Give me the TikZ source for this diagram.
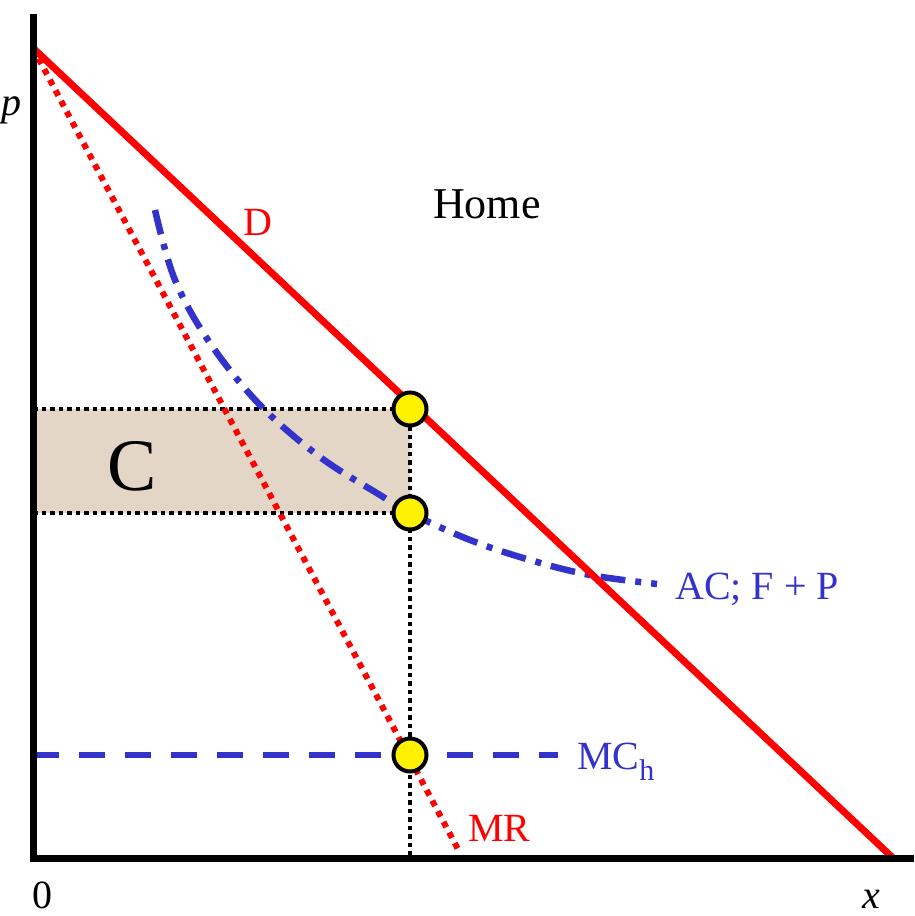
\documentclass[tikz,border=0pt]{standalone}
\usepackage{fontspec}
\setmainfont{Liberation Serif}
\definecolor{myred}{RGB}{255,0,0}
\definecolor{myblue}{RGB}{51,51,204}
\definecolor{mybeige}{RGB}{228,214,198}
\tikzset{
  lbl/.style={inner sep=0pt, anchor=base west, font=\fontsize{40}{48}\selectfont},
  eqpt/.style={circle, fill=yellow, draw=black, line width=4pt, minimum size=33pt, inner sep=0pt},
  guide/.style={black, line width=4.5pt, dash pattern=on 4.5pt off 4pt},
}
\begin{document}
\begin{tikzpicture}[x=1pt,y=-1pt]
\useasboundingbox (0,0) rectangle (914,916);
% key coordinates
\coordinate (O) at (33,858.5);
\coordinate (ytop) at (33,14);
\coordinate (xend) at (914,858.5);
\coordinate (A) at (33,48);
\coordinate (Dend) at (893,858);
\coordinate (MRend) at (460,853);
\coordinate (Rtl) at (33,409);
\coordinate (Rbl) at (33,513);
\coordinate (Ptop) at (410,409);
\coordinate (Pmid) at (410,513);
\coordinate (Pbot) at (410,858);
\coordinate (MCs) at (33,755);
\coordinate (MCe) at (558,755);
% shaded area C
\fill[mybeige] (Rtl) rectangle (Pmid);
\draw[guide] (Rtl) -- (Ptop);
\draw[guide] (Rbl) -- (Pmid);
\draw[guide] (Ptop) -- (Pbot);
% MC
\draw[myblue, line width=6pt, dash pattern=on 26pt off 20pt] (MCs) -- (MCe);
% AC curve
\draw[myblue, line width=6.5pt, dash pattern=on 25pt off 10pt on 6pt off 10pt]
  plot[smooth, tension=0.6] coordinates {(155,210) (175,280) (210,343) (260,405) (320,457) (380,495) (410,513) (470,540) (530,560) (590,575) (657,584)};
% demand and MR
\draw[myred, line width=7pt] (A) -- (Dend);
\draw[myred, line width=6pt, dash pattern=on 6pt off 6pt] (A) -- (MRend);
% axes
\draw[black, line width=7pt, miter limit=10] (ytop) -- (O) -- (xend);
% equilibrium points
\node[eqpt] (E1) at (Ptop) {};
\node[eqpt] (E2) at (Pmid) {};
\node[eqpt] (E3) at (410,755) {};
% labels
\node[lbl] (lp) at (1,115) {\textit{p}};
\node[lbl] (lx) at (862,908) {\textit{x}};
\node[lbl] (l0) at (32,908) {0};
\node[lbl, font=\fontsize{44}{50}\selectfont] (lhome) at (433,218) {Home};
\node[lbl, text=myred] (lD) at (243,235) {D};
\node[lbl, text=myred] (lMR) at (468,841) {MR};
\node[lbl, text=myblue] (lMC) at (577,769) {MC\raisebox{-11pt}{\fontsize{30}{34}\selectfont h}};
\node[lbl, text=myblue] (lAC) at (675,599) {AC; F + P};
\node[lbl, font=\fontsize{74}{80}\selectfont] (lC) at (107,490) {C};
\end{tikzpicture}
\end{document}
